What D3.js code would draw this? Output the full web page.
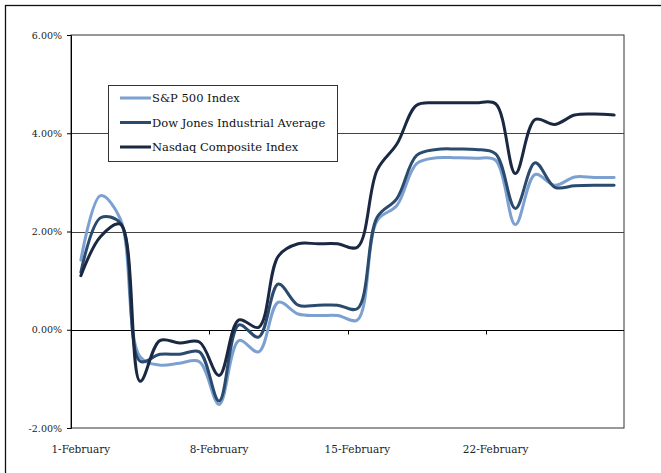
<!DOCTYPE html>
<html>
<head>
<meta charset="utf-8">
<script src="https://cdn.jsdelivr.net/npm/d3@7"></script>
<style>
  html, body { margin: 0; padding: 0; background: #fff; }
  svg { display: block; }
</style>
</head>
<body>
<svg id="chart" width="661" height="473"></svg>
<script>
// daily categories, 1-28 February
const days = d3.range(1, 29).map(d => `${d}-February`);
const dayLabels = ["1-February", "8-February", "15-February", "22-February"];
const yTicks = [-2, 0, 2, 4, 6];

// cumulative % change
const sp500 = [1.42, 2.73, 2.25, -0.55, -0.72, -0.68, -0.65, -1.52, -0.22, -0.45,
  0.56, 0.32, 0.29, 0.29, 0.2, 2.22, 2.53, 3.38, 3.5, 3.5, 3.49, 3.45, 2.14, 3.16,
  2.94, 3.11, 3.1, 3.1];
const dow = [1.17, 2.28, 2.17, -0.64, -0.5, -0.5, -0.45, -1.45, 0.1, -0.15,
  0.93, 0.5, 0.5, 0.5, 0.43, 2.29, 2.67, 3.55, 3.67, 3.68, 3.67, 3.58, 2.47, 3.4,
  2.9, 2.93, 2.94, 2.94];
const nasdaq = [1.1, 1.9, 2.15, -1.05, -0.22, -0.27, -0.25, -0.93, 0.2, 0.05,
  1.5, 1.75, 1.75, 1.75, 1.68, 3.25, 3.78, 4.57, 4.62, 4.62, 4.62, 4.6, 3.18, 4.28,
  4.18, 4.37, 4.39, 4.37];

const seriesNames = ["S&P 500 Index", "Dow Jones Industrial Average", "Nasdaq Composite Index"];
const seriesColors = ["#7ca1d1", "#2a4a6e", "#1a2842"];
const seriesValues = [sp500, dow, nasdaq];

const svg = d3.select("#chart");
const font = "'DejaVu Serif', serif";

const plotLeft = 71, plotRight = 624, plotTop = 35, plotBottom = 428;

const x = d3.scaleBand().domain(days).range([plotLeft, plotRight]).padding(0);
const y = d3.scaleLinear().domain([-2, 6]).range([plotBottom, plotTop]);

// outer frame (runs off the right and bottom edge)
svg.append("rect")
  .attr("x", 5.5).attr("y", 5.5)
  .attr("width", 720).attr("height", 520)
  .attr("fill", "none")
  .attr("stroke", "#111")
  .attr("stroke-width", 1.3);

// plot area border
svg.append("rect")
  .attr("x", plotLeft).attr("y", y(6))
  .attr("width", plotRight - plotLeft).attr("height", y(-2) - y(6))
  .attr("fill", "none")
  .attr("stroke", "#333")
  .attr("stroke-width", 1);

// gridlines
svg.append("g")
  .selectAll("line")
  .data([2, 4])
  .join("line")
  .attr("x1", plotLeft).attr("x2", plotRight)
  .attr("y1", d => Math.round(y(d)) + 0.5)
  .attr("y2", d => Math.round(y(d)) + 0.5)
  .attr("stroke", "#444")
  .attr("stroke-width", 1);

// y axis
const yAxis = svg.append("g")
  .attr("transform", `translate(${plotLeft},0)`)
  .call(d3.axisLeft(y).tickValues(yTicks).tickSize(4).tickFormat(d => d.toFixed(2) + "%"));
yAxis.select(".domain").attr("stroke", "#000");
yAxis.selectAll(".tick line").attr("stroke", "#000");
yAxis.selectAll("text")
  .attr("font-family", font)
  .attr("font-size", "9.5px")
  .attr("fill", "#222")
  .attr("x", -9);

// x axis sits on the zero line, tick marks between categories
const x0 = Math.round(y(0)) + 0.5;
svg.append("line")
  .attr("x1", plotLeft).attr("x2", plotRight)
  .attr("y1", x0).attr("y2", x0)
  .attr("stroke", "#000");
svg.append("g")
  .selectAll("line")
  .data(dayLabels.slice(1))
  .join("line")
  .attr("x1", d => Math.round(x(d)) + 0.5)
  .attr("x2", d => Math.round(x(d)) + 0.5)
  .attr("y1", x0).attr("y2", x0 + 4)
  .attr("stroke", "#000");

// category labels at the low position
svg.append("g")
  .selectAll("text")
  .data(dayLabels)
  .join("text")
  .attr("x", d => x(d) + x.bandwidth() / 2)
  .attr("y", 453)
  .attr("text-anchor", "middle")
  .attr("font-family", font)
  .attr("font-size", "10.5px")
  .attr("fill", "#222")
  .text(d => d);

// smoothed lines
const line = d3.line()
  .x((d, i) => x(days[i]) + x.bandwidth() / 2)
  .y(d => y(d))
  .curve(d3.curveCatmullRom.alpha(0.5));

svg.append("g")
  .selectAll("path")
  .data(seriesValues)
  .join("path")
  .attr("d", d => line(d))
  .attr("fill", "none")
  .attr("stroke", (d, i) => seriesColors[i])
  .attr("stroke-width", 3)
  .attr("stroke-linejoin", "round")
  .attr("stroke-linecap", "round");

// legend
const legend = svg.append("g");
legend.append("rect")
  .attr("x", 108.5).attr("y", 85.5)
  .attr("width", 229).attr("height", 76)
  .attr("fill", "#fff")
  .attr("stroke", "#333")
  .attr("stroke-width", 1);

const rows = legend.selectAll("g.row")
  .data(seriesNames)
  .join("g")
  .attr("class", "row")
  .attr("transform", (d, i) => `translate(0,${98 + i * 24.5})`);
rows.append("line")
  .attr("x1", 120).attr("x2", 151)
  .attr("stroke", (d, i) => seriesColors[i])
  .attr("stroke-width", 3);
rows.append("text")
  .attr("x", 152)
  .attr("dy", "0.35em")
  .attr("font-family", font)
  .attr("font-size", "11.5px")
  .attr("fill", "#111")
  .text(d => d);
</script>
</body>
</html>
